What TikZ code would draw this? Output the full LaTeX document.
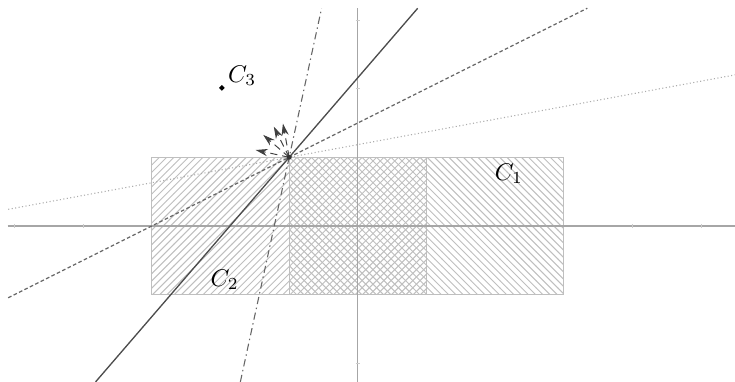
\documentclass[tikz,border=0pt]{standalone}
\usetikzlibrary{patterns,arrows.meta,shapes.geometric}

\begin{document}
\begin{tikzpicture}[axis/.style={draw=gray!70,line width=0.5pt},
  box/.style={draw=gray!50,line width=0.4pt},
  solidln/.style={draw=black!70,line width=0.55pt},
  dashln/.style={draw=black!60,dash pattern=on 1.5pt off 1pt,line width=0.5pt},
  dotln/.style={draw=gray!65,densely dotted,line width=0.45pt},
  dashdotln/.style={draw=black!60,dash pattern=on 3pt off 1.5pt on 0.6pt off 1.5pt,line width=0.45pt},
  normal/.style={draw=black!75,densely dashed,line width=0.4pt,-{Stealth[length=5pt,width=3pt]}},
  label/.style={inner sep=1pt}]
  \useasboundingbox (-5.21,-2.27) rectangle (5.49,3.29);
  % hatched sets
  \fill[pattern=north west lines,pattern color=gray!50] (-1,-1) rectangle (3,1);
  \fill[pattern=north east lines,pattern color=gray!50] (-3,-1) rectangle (1,1);
  \draw[box] (-3,-1) rectangle (3,1);
  \draw[box] (-1,-1) -- (-1,1) (1,-1) -- (1,1);
  % axes
  \coordinate (xl) at (-5.1,0);
  \coordinate (xr) at (5.49,0);
  \coordinate (yb) at (0,-2.27);
  \coordinate (yt) at (0,3.17);
  \draw[axis] (xl) -- (xr);
  \draw[axis] (yb) -- (yt);
  \foreach \x in {-5,-4,4,5} \draw[draw=gray!40,line width=0.3pt] (\x,-0.03) -- (\x,0.03);
  \foreach \y in {-2,2,3} \draw[draw=gray!40,line width=0.3pt] (-0.03,\y) -- (0.03,\y);
  % supporting lines through P
  \coordinate (P) at (-1,1);
  \coordinate (s1) at (-3.819,-2.27);
  \coordinate (s2) at (0.871,3.17);
  \coordinate (d1) at (-5.09,-1.045);
  \coordinate (d2) at (3.34,3.17);
  \coordinate (o1) at (-5.09,0.243);
  \coordinate (o2) at (5.49,2.20);
  \coordinate (c1) at (-1.711,-2.27);
  \coordinate (c2) at (-0.528,3.17);
  \draw[dotln] (o1) -- (P) -- (o2);
  \draw[dashln] (d1) -- (P) -- (d2);
  \draw[dashdotln] (c1) -- (P) -- (c2);
  \draw[solidln] (s1) -- (P) -- (s2);
  % normals
  \path (P) ++(100.5:0.5) coordinate (n1);
  \path (P) ++(116.6:0.5) coordinate (n2);
  \path (P) ++(139.2:0.5) coordinate (n3);
  \path (P) ++(167.7:0.5) coordinate (n4);
  \foreach \n in {n1,n2,n3,n4} \draw[normal] (P) -- (\n);
  \fill[black!80] (P) circle (1pt);
  % labels
  \node[label] (lc1) at (2.2,0.76) {$C_1$};
  \node[label] (lc2) at (-1.94,-0.78) {$C_2$};
  \node[fill=black,diamond,inner sep=0pt,minimum size=2.5pt] (pc3) at (-1.98,2.01) {};
  \node[label,anchor=south west] (lc3) at (-1.93,2.0) {$C_3$};
\end{tikzpicture}
\end{document}
